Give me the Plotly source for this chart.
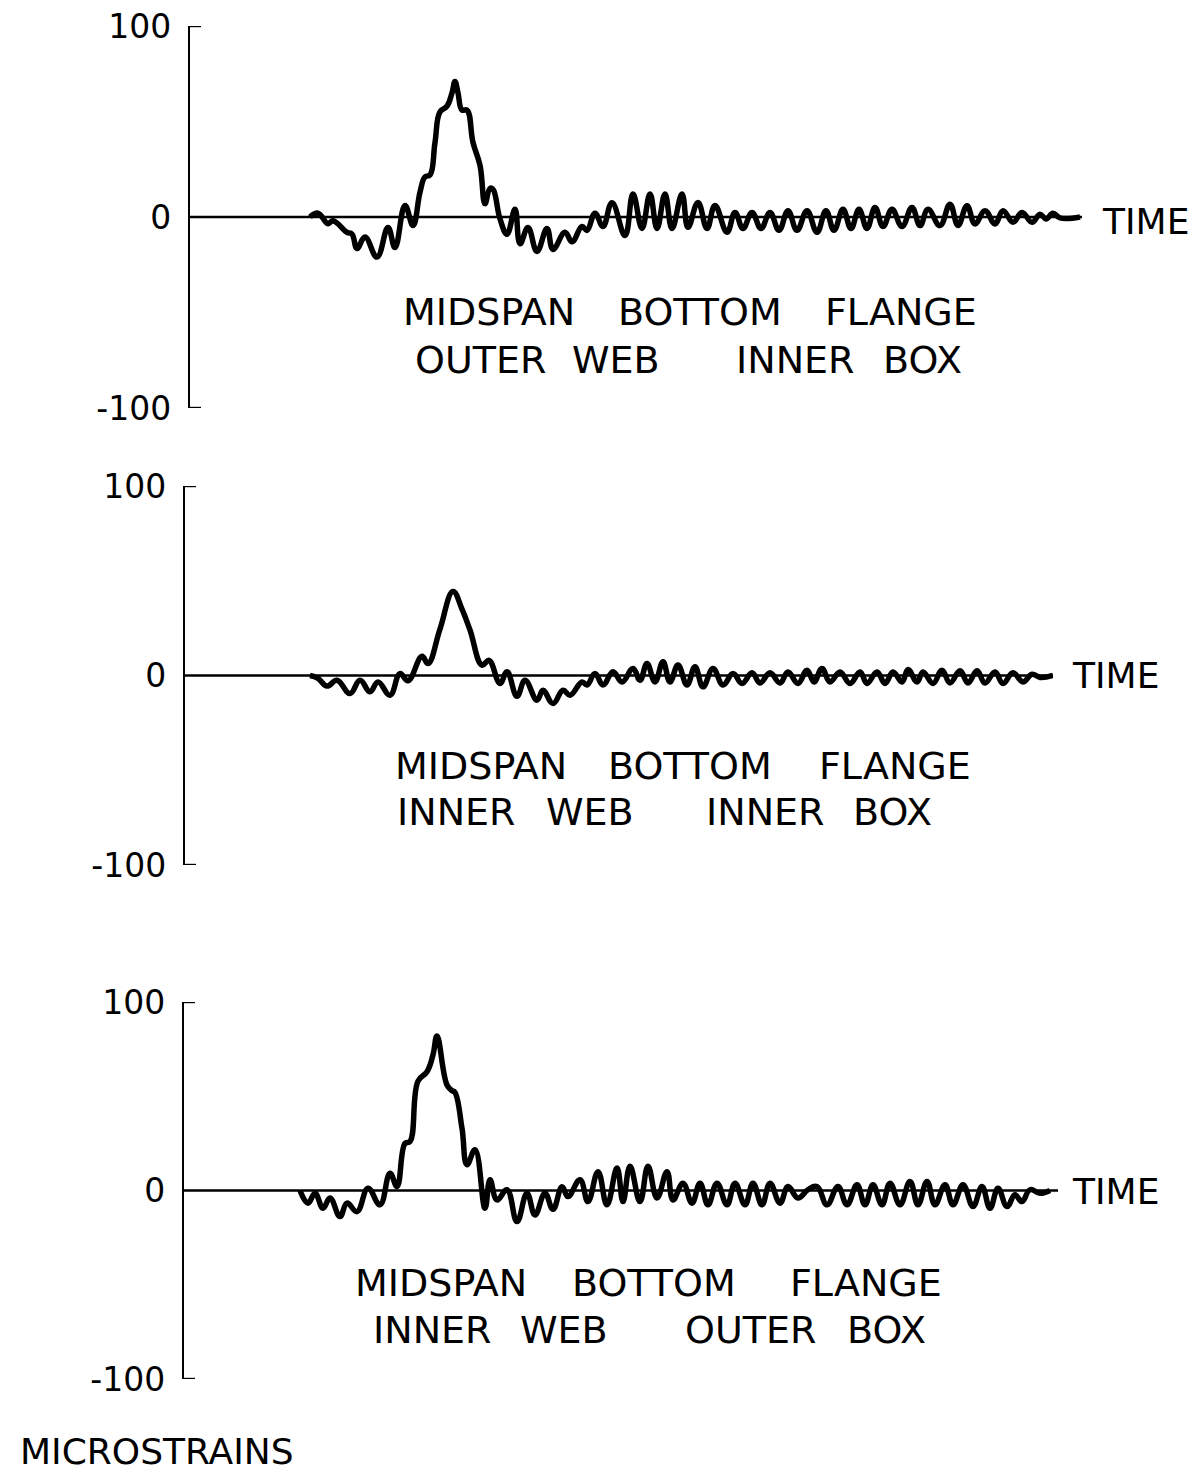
import plotly.graph_objects as go

# ---- strain records (time in chart units from the start of each record, strain in microstrains) ----
outer_web_inner_box_t = [
    120, 128, 138, 143, 157, 162, 167, 175, 187, 198, 205, 215, 223, 230, 235, 240,
    245, 250, 257, 262, 265, 268, 272, 277, 283, 290, 295, 300, 303, 310, 317, 325,
    330, 338, 347, 357, 363, 375, 382, 392, 397, 405, 413, 422, 435, 443, 452, 460,
    467, 475, 482, 492, 498, 508, 517, 525, 537, 545, 553, 562, 571, 580, 589, 598,
    607, 617, 627, 636, 644, 653, 661, 669, 677, 685, 693, 702, 712, 722, 730, 738,
    750, 760, 768, 777, 785, 795, 805, 813, 823, 832, 842, 850, 856, 863, 870, 890,
]
outer_web_inner_box_v = [
    0, 2, -3.5, -2, -8, -9, -16.5, -10.5, -21, -5.5, -16, 6, -4.5, 13, 21, 22,
    39, 55, 58, 65, 71, 65, 56, 56, 39, 27, 7, 15, 14.5, -1, -9, 4,
    -14, -5.5, -18, -6, -17, -8, -13, -5, -7, 2, -5, 7.5, -9.7, 12, -6, 12,
    -6, 12, -6, 12, -5.4, 7.6, -6, 6, -8, 2.4, -6, 2.4, -6, 2.4, -7, 3.3,
    -7, 3.3, -8, 3.3, -7, 4, -6, 4, -6, 5, -5, 4, -5, 5, -4.5, 4,
    -4.5, 6.7, -4.5, 5.9, -3.6, 3.3, -3.6, 3.3, -2.8, 2.4, -2.8, 1.5, -1, 2, -0.5, 0,
]

inner_web_inner_box_t = [
    125, 133, 142, 152, 165, 175, 185, 193, 205, 215, 223, 237, 243, 255, 268, 277,
    285, 297, 304, 315, 322, 332, 340, 352, 358, 368, 378, 385, 397, 402, 410, 418,
    428, 437, 448, 455, 462, 470, 478, 485, 493, 502, 510, 518, 528, 538, 548, 557,
    567, 575, 585, 595, 603, 613, 622, 629, 637, 645, 655, 665, 675, 682, 692, 700,
    708, 717, 723, 732, 738, 748, 757, 765, 775, 783, 792, 800, 810, 818, 828, 838,
    847, 855, 868,
]
inner_web_inner_box_v = [
    0, -1.5, -5.6, -2.5, -9.5, -2.5, -8.6, -3.4, -10.4, 1, -2.8, 10.2, 6.3, 24.5, 44.3, 35,
    24, 5.5, 8, -4.2, 2, -11, -2.5, -13, -7.8, -14.8, -7.8, -10.4, -3.4, -5, 1, -5,
    2, -3.4, 3.7, -2.5, 6.3, -3.4, 7.2, -3.4, 5.5, -5, 4.6, -6, 3.7, -5, 1, -4.2,
    1.4, -3.9, 1.4, -3.9, 1.9, -4.2, 2.8, -3.4, 3.7, -3.4, 1.9, -4.2, 1.9, -4.2, 1.9, -4.2,
    1.9, -3.4, 3.2, -3.4, 1.9, -4.2, 2.8, -3.9, 2.5, -3.9, 2.5, -3.9, 1.9, -4.2, 1.4, -3.4,
    0.7, -1, 0,
]

inner_web_outer_box_t = [
    116, 124, 131, 139, 146, 156, 163, 173, 184, 196, 206, 213, 221, 226, 234, 243,
    249, 253, 263, 268, 271, 278, 283, 291, 301, 306, 313, 323, 333, 343, 351, 361,
    369, 378, 384, 396, 404, 414, 423, 433, 439, 446, 456, 464, 473, 483, 489, 499,
    508, 516, 524, 533, 543, 551, 561, 569, 578, 586, 596, 604, 614, 624, 633, 643,
    654, 663, 673, 681, 689, 698, 706, 716, 726, 734, 743, 751, 761, 769, 779, 789,
    798, 806, 814, 823, 831, 838, 846, 856, 866,
]
inner_web_outer_box_v = [
    0, -6.7, -1.4, -9.4, -4, -13.8, -6.7, -11.2, 1.2, -7.6, 9.2, 2.1, 25, 26, 58, 63,
    72, 82, 56, 53, 52, 33, 13.7, 21.6, -9.4, 5.7, -5, 0.4, -16.5, -1.4, -13, -1.4,
    -10, 2, -3.2, 5.7, -5.9, 10, -7.6, 11.9, -5.9, 12.8, -5.9, 12.8, -4, 10, -5, 3.9,
    -6.7, 3.9, -7.6, 3.9, -7.6, 3.9, -7.6, 3.9, -7.6, 3.9, -6.7, 2.1, -4, 0.5, 2.1, -7.6,
    2.1, -7.6, 3, -7.6, 3, -7.6, 3.9, -7.6, 4.8, -7.6, 4.8, -7.6, 3, -7.6, 3, -8.5,
    2.1, -9.4, 1.2, -8.5, -2.3, -5.9, 0.4, -1.5, 0,
]

tick_vals = [-100, 0, 100]
tick_text = ["-100", "0", "100"]

# ---- page geometry (pixels) ----
W, H = 1203, 1473
FONT = "DejaVu Sans"
INK = "black"


def px(x):
    return x / W


def py(y):
    return 1 - y / H


# axis x, end of time line, pixel row of +100, pixel row of -100
panels = [
    dict(t=outer_web_inner_box_t, v=outer_web_inner_box_v, ax=190, end=1082, top=26, bot=408,
         words1=[("MIDSPAN", 489), ("BOTTOM", 700), ("FLANGE", 901)], y1=312,
         words2=[("OUTER", 480), ("WEB", 616), ("INNER", 795), ("BOX", 922)], y2=360,
         time=(1145, 222)),
    dict(t=inner_web_inner_box_t, v=inner_web_inner_box_v, ax=185, end=1053, top=486, bot=865,
         words1=[("MIDSPAN", 481), ("BOTTOM", 690), ("FLANGE", 895)], y1=766,
         words2=[("INNER", 456), ("WEB", 590), ("INNER", 765), ("BOX", 892)], y2=812,
         time=(1115, 675)),
    dict(t=inner_web_outer_box_t, v=inner_web_outer_box_v, ax=184, end=1058, top=1002, bot=1379,
         words1=[("MIDSPAN", 441), ("BOTTOM", 654), ("FLANGE", 866)], y1=1283,
         words2=[("INNER", 432), ("WEB", 564), ("OUTER", 750), ("BOX", 886)], y2=1330,
         time=(1115, 1191)),
]

TICK_LEN = 11  # in time units, which are one pixel wide

fig = go.Figure()
annotations = []
shapes = []
layout_axes = {}


def label(text, x, y, size):
    return dict(text=text, x=px(x), y=py(y), xref="paper", yref="paper",
                xanchor="center", yanchor="middle", showarrow=False,
                font=dict(family=FONT, size=size, color=INK))


for i, p in enumerate(panels, start=1):
    xa = "x" if i == 1 else f"x{i}"
    ya = "y" if i == 1 else f"y{i}"
    fig.add_trace(go.Scatter(
        x=p["t"], y=p["v"], mode="lines",
        line=dict(color=INK, width=5.5, shape="spline", smoothing=1.2),
        xaxis=xa, yaxis=ya, showlegend=False, hoverinfo="skip",
    ))
    length = p["end"] - p["ax"]
    layout_axes["xaxis" if i == 1 else f"xaxis{i}"] = dict(
        domain=[px(p["ax"]), px(p["end"])], range=[0, length], visible=False,
        anchor=ya, fixedrange=True,
    )
    layout_axes["yaxis" if i == 1 else f"yaxis{i}"] = dict(
        domain=[py(p["bot"]), py(p["top"])], range=[-100, 100], anchor=xa,
        showline=True, linecolor=INK, linewidth=2.4, mirror=False,
        ticks="", tickvals=tick_vals, ticktext=tick_text, ticklabelstandoff=10,
        tickfont=dict(family=FONT, size=33, color=INK),
        showgrid=False, zeroline=False, automargin=False, fixedrange=True,
    )
    # time base line
    shapes.append(dict(type="line", xref=xa, yref=ya, x0=0, x1=length, y0=0, y1=0,
                       line=dict(color=INK, width=2.4)))
    # short end ticks at +100 and -100, pointing into the plot
    for tv in (100, -100):
        shapes.append(dict(type="line", xref=xa, yref=ya, x0=0, x1=TICK_LEN, y0=tv, y1=tv,
                           line=dict(color=INK, width=2.4)))
    for word, cx in p["words1"]:
        annotations.append(label(word, cx, p["y1"], 38))
    for word, cx in p["words2"]:
        annotations.append(label(word, cx, p["y2"], 38))
    tx, ty = p["time"]
    annotations.append(label("TIME", tx, ty, 36))

annotations.append(label("MICROSTRAINS", 157, 1451, 36))

fig.update_layout(
    width=W, height=H, autosize=False,
    margin=dict(l=0, r=0, t=0, b=0, pad=0),
    paper_bgcolor="white", plot_bgcolor="white",
    annotations=annotations, shapes=shapes,
    **layout_axes,
)

fig.write_html("out.html")
